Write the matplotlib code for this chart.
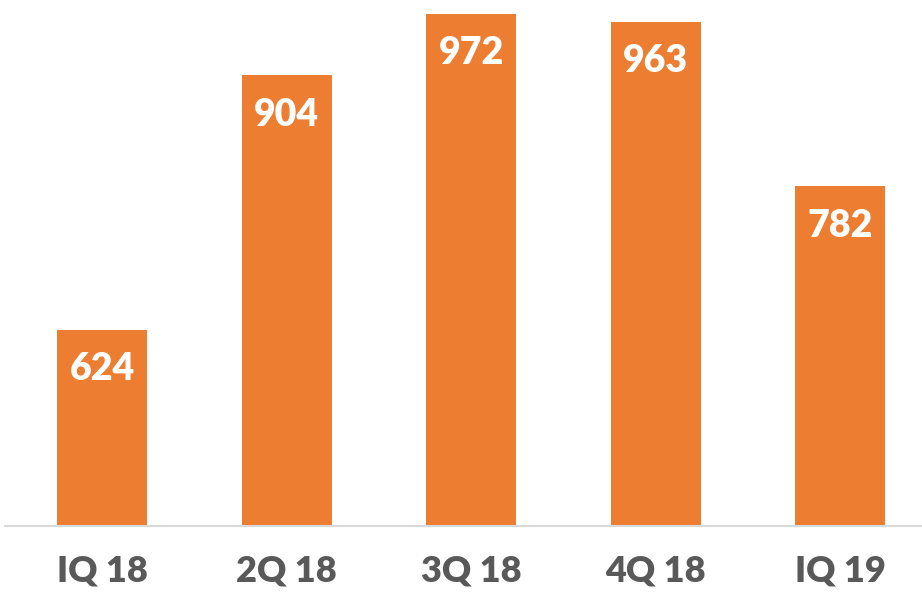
import matplotlib.pyplot as plt

quarters = ["IQ 18", "2Q 18", "3Q 18", "4Q 18", "IQ 19"]
values = [624, 904, 972, 963, 782]

fig = plt.figure(figsize=(9.22, 5.93), dpi=100)
ax = fig.add_axes([5/922, 67/593, 917/922, 526/593])

x = range(len(values))
bars = ax.bar(x, values, width=0.488, color="#ED7D31", zorder=2)

ax.set_ylim(408, 987)
ax.set_xlim(-0.526, 4.444)

# value labels inside the top of each bar
for b, v in zip(bars, values):
    ax.annotate(str(v), (b.get_x() + b.get_width()/2, v),
                xytext=(0, -28.5), textcoords="offset points",
                ha="center", va="center", color="white",
                fontsize=27, fontweight="heavy", family="Lato")

for s in ["top", "right", "left"]:
    ax.spines[s].set_visible(False)
ax.spines["bottom"].set_color("#D9D9D9")
ax.spines["bottom"].set_linewidth(1.5)
ax.set_yticks([])
ax.set_xticks(list(x))
ax.set_xticklabels(quarters, fontsize=26, fontweight="heavy", family="Lato",
                   color="#595959")
ax.tick_params(axis="x", length=0, pad=20.5)

fig.savefig("out.png", dpi=100)
